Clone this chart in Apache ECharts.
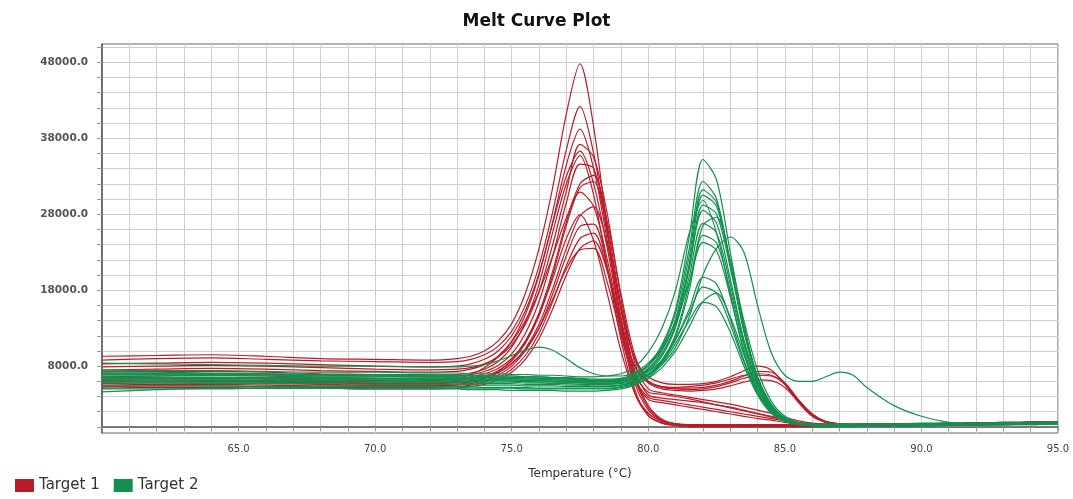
<html>
<head>
<meta charset="utf-8">
<title>Melt Curve Plot</title>
<script src="https://cdn.jsdelivr.net/npm/echarts@6.0.0/dist/echarts.min.js"></script>
<style>
  body { margin: 0; background: #fff; }
  #main { width: 1073px; height: 499px; }
</style>
</head>
<body>
<div id="main"></div>
<script type="text/javascript">
// temperature steps (°C) shared by every curve
var temps = [60,62,64,66,68,70,72,73, 73.5,74,74.5,75,75.5,76,76.5,77, 77.5,78,78.5,79,79.5,80,80.5,81,
             81.5,82,82.5,83,83.5,84,84.5,85, 85.5,86,86.5,87,87.5,88,89,90, 91,92,93,94,95];

// -d(RFU)/dT, in thousands
// Target 1 (red)
var r1  = [9.3,9.4,9.5,9.3,9.0,8.9,8.8,9.0, 9.3,10.0,11.3,13.6,17.6,23.5,31.5,41.2, 47.8,39.5,26.0,13.5,5.0,1.5,0.5,0.2, 0.1,0.1,0.1,0.1,0.1,0.1,0.1,0.1, 0.1,0.1,0.2,0.2,0.2,0.2,0.2,0.3, 0.3,0.4,0.4,0.5,0.6];
var r2  = [8.8,9.0,9.1,8.9,8.7,8.6,8.5,8.6, 8.9,9.5,10.6,12.6,16.0,21.2,28.3,36.5, 42.2,36.0,25.5,15.5,9.0,6.6,5.8,5.6, 5.6,5.7,6.0,6.6,7.4,8.0,7.5,5.6, 3.2,1.4,0.6,0.3,0.2,0.2,0.2,0.3, 0.3,0.4,0.4,0.5,0.6];
var r3  = [8.3,8.4,8.5,8.4,8.2,8.0,7.9,8.0, 8.3,8.9,10.0,12.0,15.3,20.2,27.0,34.5, 39.2,34.0,24.5,14.5,6.5,2.5,0.9,0.4, 0.2,0.2,0.2,0.2,0.2,0.2,0.2,0.2, 0.2,0.2,0.3,0.3,0.3,0.3,0.3,0.4, 0.4,0.5,0.5,0.6,0.6];
var r4  = [7.9,8.0,8.1,8.0,7.8,7.6,7.5,7.6, 7.8,8.3,9.2,10.8,13.5,17.8,24.0,31.0, 37.2,35.5,28.0,17.0,8.5,5.0,4.5,4.2, 3.9,3.6,3.3,3.0,2.6,2.2,1.8,1.3, 0.8,0.5,0.4,0.3,0.3,0.3,0.3,0.4, 0.4,0.5,0.5,0.6,0.6];
var r5  = [7.5,7.6,7.7,7.6,7.4,7.3,7.2,7.3, 7.6,8.2,9.3,11.3,14.8,20.0,26.8,33.0, 36.3,32.0,23.5,14.0,8.0,6.0,5.3,5.1, 5.1,5.2,5.5,6.0,6.7,7.3,7.2,5.8, 3.4,1.5,0.6,0.4,0.3,0.3,0.3,0.4, 0.4,0.5,0.5,0.6,0.7];
var r6  = [7.2,7.3,7.3,7.2,7.0,6.9,6.8,6.9, 7.1,7.6,8.6,10.5,13.8,18.8,25.6,32.0, 35.7,30.5,21.0,11.5,4.5,1.5,0.5,0.2, 0.0,0.0,0.0,0.0,0.0,0.0,0.0,0.0, 0.0,0.0,0.0,0.1,0.1,0.1,0.1,0.2, 0.2,0.3,0.3,0.4,0.5];
var r7  = [6.9,7.0,7.0,6.9,6.8,6.7,6.6,6.7, 6.9,7.3,8.1,9.6,12.3,16.5,22.5,29.5, 34.6,34.0,26.5,16.0,7.5,4.2,3.8,3.6, 3.4,3.2,2.9,2.6,2.2,1.8,1.4,1.0, 0.6,0.4,0.3,0.3,0.3,0.3,0.3,0.4, 0.4,0.5,0.5,0.6,0.6];
var r8  = [6.6,6.7,6.8,6.7,6.5,6.4,6.3,6.4, 6.6,7.0,7.7,9.0,11.3,15.0,20.5,27.0, 32.0,33.1,27.0,17.5,9.5,6.0,5.2,5.0, 4.9,5.0,5.3,5.8,6.4,6.8,6.7,5.6, 3.5,1.7,0.7,0.4,0.3,0.3,0.3,0.4, 0.4,0.5,0.5,0.6,0.6];
var r9  = [6.3,6.4,6.4,6.3,6.2,6.1,6.0,6.1, 6.3,6.7,7.4,8.7,11.0,14.6,20.0,26.5, 31.5,32.3,25.5,15.5,7.0,2.8,1.0,0.4, 0.3,0.3,0.3,0.3,0.3,0.3,0.3,0.3, 0.3,0.3,0.3,0.3,0.3,0.4,0.4,0.4, 0.5,0.5,0.6,0.6,0.7];
var r10 = [6.1,6.2,6.2,6.1,6.0,6.0,6.1,6.4, 6.9,7.8,9.2,11.2,14.0,17.8,22.5,27.5, 30.9,29.0,22.0,13.5,7.0,4.6,4.3,4.0, 3.7,3.3,2.9,2.5,2.1,1.7,1.3,0.9, 0.5,0.3,0.3,0.3,0.3,0.3,0.3,0.4, 0.4,0.5,0.5,0.6,0.6];
var r11 = [5.9,6.0,6.0,5.9,5.8,5.7,5.7,5.8, 6.0,6.4,7.1,8.3,10.3,13.5,18.2,23.5, 27.8,29.0,24.0,16.0,9.0,5.8,5.0,4.8, 4.7,4.8,5.0,5.4,5.9,6.2,6.1,5.2, 3.3,1.6,0.7,0.4,0.3,0.3,0.3,0.4, 0.4,0.5,0.5,0.6,0.6];
var r12 = [5.7,5.8,5.8,5.7,5.6,5.5,5.5,5.6, 5.9,6.4,7.3,8.8,11.2,14.8,19.5,24.8, 27.9,24.5,17.5,10.0,4.5,1.8,0.7,0.2, 0.1,0.1,0.1,0.1,0.1,0.1,0.1,0.1, 0.1,0.1,0.1,0.2,0.2,0.2,0.2,0.3, 0.3,0.3,0.4,0.4,0.5];
var r13 = [5.5,5.6,5.6,5.5,5.4,5.4,5.4,5.5, 5.7,6.1,6.8,8.0,10.0,13.0,17.5,22.5, 26.4,26.7,21.0,13.0,6.5,3.9,3.5,3.2, 2.9,2.6,2.3,2.0,1.7,1.4,1.1,0.8, 0.5,0.3,0.3,0.3,0.3,0.3,0.3,0.4, 0.4,0.5,0.5,0.6,0.6];
var r14 = [5.3,5.4,5.4,5.3,5.2,5.2,5.2,5.3, 5.5,5.9,6.5,7.6,9.4,12.3,16.5,21.2, 24.8,25.5,20.5,12.5,5.8,2.2,0.8,0.4, 0.3,0.3,0.3,0.3,0.3,0.3,0.3,0.3, 0.3,0.3,0.3,0.3,0.4,0.4,0.4,0.4, 0.5,0.5,0.6,0.6,0.7];
var r15 = [5.1,5.2,5.2,5.1,5.1,5.0,5.0,5.1, 5.3,5.6,6.2,7.2,8.9,11.6,15.5,20.0, 23.5,24.5,20.5,13.5,8.0,5.8,5.3,5.2, 5.3,5.5,5.8,6.3,6.8,7.0,6.8,5.8, 3.6,1.7,0.7,0.4,0.3,0.3,0.3,0.4, 0.4,0.5,0.5,0.6,0.6];
var r16 = [6.0,6.0,6.1,6.0,5.9,5.8,5.8,5.9, 6.1,6.5,7.2,8.4,10.2,13.0,16.8,20.8, 23.3,23.5,19.0,12.0,6.2,3.6,3.2,2.9, 2.6,2.3,2.0,1.7,1.4,1.1,0.9,0.6, 0.4,0.3,0.3,0.3,0.3,0.3,0.3,0.4, 0.4,0.5,0.5,0.6,0.6];

// Target 2 (green)
var g1  = [7.3,7.2,7.1,7.0,6.9,6.9,6.8,6.8, 6.8,6.7,6.7,6.7,6.6,6.6,6.5,6.4, 6.3,6.2,6.2,6.3,6.9,8.2,10.8,15.5, 25.0,35.2,32.5,23.0,13.5,6.5,2.8,1.1, 0.5,0.3,0.2,0.2,0.2,0.2,0.2,0.3, 0.3,0.4,0.4,0.5,0.6];
var g2  = [7.0,7.0,6.9,6.9,6.8,6.8,6.7,6.7, 6.7,6.6,6.6,6.5,6.5,6.4,6.4,6.3, 6.2,6.1,6.1,6.2,6.8,8.0,10.5,15.0, 23.5,32.3,30.0,21.5,12.5,6.0,2.6,1.0, 0.4,0.2,0.1,0.1,0.1,0.1,0.2,0.2, 0.2,0.3,0.3,0.4,0.5];
var g3  = [6.9,6.9,6.8,6.8,6.7,6.7,6.6,6.6, 6.5,6.5,6.4,6.4,6.3,6.3,6.2,6.1, 6.0,6.0,6.0,6.1,6.6,7.7,10.0,14.2, 22.5,31.2,29.5,21.5,12.8,6.3,2.7,1.0, 0.4,0.3,0.3,0.3,0.3,0.3,0.3,0.4, 0.4,0.4,0.5,0.5,0.6];
var g4  = [6.6,6.6,6.5,6.5,6.5,6.4,6.4,6.4, 6.3,6.3,6.2,6.2,6.1,6.1,6.0,5.9, 5.8,5.8,5.8,5.9,6.4,7.5,9.6,13.6, 21.5,30.5,29.0,21.5,13.0,6.6,2.9,1.1, 0.5,0.4,0.4,0.4,0.4,0.4,0.4,0.5, 0.5,0.5,0.6,0.6,0.7];
var g5  = [7.5,7.4,7.4,7.3,7.2,7.2,7.1,7.1, 7.0,7.0,7.0,6.9,6.9,6.8,6.8,6.7, 6.6,6.6,6.7,7.0,7.9,9.8,13.0,18.0, 25.5,29.8,25.5,17.5,9.8,4.6,1.9,0.8, 0.4,0.2,0.2,0.2,0.2,0.2,0.2,0.3, 0.3,0.3,0.4,0.4,0.5];
var g6  = [6.4,6.4,6.3,6.3,6.3,6.2,6.2,6.2, 6.2,6.1,6.1,6.0,6.0,5.9,5.9,5.8, 5.8,5.7,5.7,5.8,6.3,7.3,9.3,13.2, 20.8,29.2,28.0,21.0,12.8,6.6,3.0,1.2, 0.5,0.3,0.2,0.2,0.2,0.2,0.3,0.3, 0.3,0.4,0.4,0.5,0.5];
var g7  = [7.1,7.1,7.0,7.0,6.9,6.9,6.9,6.8, 6.8,6.8,6.7,6.7,6.6,6.6,6.5,6.5, 6.4,6.3,6.3,6.4,7.0,8.1,10.2,14.0, 21.0,28.5,26.8,19.5,11.5,5.8,2.5,1.0, 0.4,0.1,0.0,0.0,0.0,0.1,0.1,0.1, 0.2,0.2,0.3,0.3,0.4];
var g8  = [6.2,6.2,6.1,6.1,6.1,6.0,6.0,6.0, 6.0,5.9,5.9,5.9,5.8,5.8,5.7,5.7, 5.6,5.6,5.6,5.7,6.1,7.0,8.8,12.2, 18.8,26.5,27.6,22.0,14.0,7.5,3.4,1.4, 0.6,0.3,0.2,0.2,0.2,0.2,0.2,0.3, 0.3,0.4,0.4,0.5,0.6];
var g9  = [6.8,6.8,6.7,6.7,6.6,6.6,6.6,6.5, 6.5,6.5,6.4,6.4,6.3,6.3,6.2,6.2, 6.1,6.0,6.0,6.1,6.6,7.6,9.6,13.2, 19.8,26.8,25.5,18.8,11.2,5.6,2.4,0.9, 0.4,0.3,0.3,0.3,0.3,0.3,0.3,0.3, 0.4,0.4,0.5,0.5,0.6];
var g10 = [6.0,6.0,5.9,5.9,5.9,5.8,5.8,5.8, 5.8,5.7,5.7,5.7,5.6,5.6,5.6,5.5, 5.5,5.4,5.4,5.5,5.9,6.8,8.5,11.8, 18.0,25.2,24.2,18.0,10.8,5.4,2.3,0.9, 0.4,0.2,0.1,0.1,0.1,0.1,0.1,0.2, 0.2,0.3,0.3,0.4,0.4];
var g11 = [8.4,8.3,8.2,8.1,8.0,8.0,7.9,7.9, 8.0,8.2,8.7,9.4,10.1,10.5,10.1,9.0, 7.8,7.0,6.7,6.7,7.2,8.4,10.5,13.8, 19.0,24.3,23.2,17.2,10.2,5.0,2.1,0.8, 0.4,0.3,0.3,0.3,0.3,0.3,0.3,0.4, 0.4,0.4,0.5,0.5,0.6];
var g12 = [5.8,5.8,5.7,5.7,5.7,5.6,5.6,5.6, 5.6,5.5,5.5,5.5,5.4,5.4,5.4,5.3, 5.3,5.3,5.3,5.5,6.0,6.8,8.2,10.5, 14.5,20.0,23.5,25.0,23.0,16.0,9.8,6.8, 6.0,6.0,6.6,7.2,6.8,5.2,2.8,1.4, 0.6,0.4,0.4,0.5,0.6];
var g13 = [5.4,5.4,5.4,5.3,5.3,5.3,5.3,5.3, 5.3,5.2,5.2,5.2,5.2,5.1,5.1,5.1, 5.1,5.1,5.1,5.3,5.8,6.8,8.6,11.5, 15.5,19.7,18.8,14.2,8.8,4.5,2.0,0.8, 0.4,0.2,0.2,0.2,0.2,0.2,0.2,0.3, 0.3,0.3,0.4,0.4,0.5];
var g14 = [6.5,6.5,6.4,6.4,6.4,6.3,6.3,6.3, 6.3,6.2,6.2,6.2,6.1,6.1,6.0,6.0, 5.9,5.9,5.9,6.0,6.4,7.3,8.8,11.5, 15.0,18.4,17.6,13.5,8.5,4.4,1.9,0.8, 0.4,0.3,0.3,0.3,0.3,0.3,0.3,0.4, 0.4,0.5,0.5,0.6,0.6];
var g15 = [5.0,5.0,5.0,5.1,5.1,5.1,5.1,5.1, 5.1,5.1,5.1,5.1,5.0,5.0,5.0,5.0, 5.0,5.0,5.0,5.2,5.6,6.4,7.8,10.0, 13.2,16.5,17.6,14.5,9.5,5.0,2.2,0.9, 0.4,0.2,0.1,0.1,0.1,0.1,0.1,0.2, 0.2,0.2,0.3,0.3,0.4];
var g16 = [4.6,4.9,5.1,5.1,5.1,5.0,5.0,5.0, 4.9,4.9,4.9,4.8,4.8,4.8,4.8,4.7, 4.7,4.7,4.8,5.0,5.5,6.5,8.3,11.0, 14.0,16.4,15.8,12.5,8.0,4.2,1.8,0.7, 0.3,0.2,0.2,0.2,0.2,0.2,0.2,0.3, 0.3,0.3,0.4,0.4,0.5];

var target1 = [r1, r2, r3, r4, r5, r6, r7, r8, r9, r10, r11, r12, r13, r14, r15, r16];
var target2 = [g1, g2, g3, g4, g5, g6, g7, g8, g9, g10, g11, g12, g13, g14, g15, g16];

// axis ticks
var yTickValues = [0,2000,4000,6000,8000,10000,12000,14000,16000,18000,20000,22000,24000,26000,
                   28000,30000,32000,34000,36000,38000,40000,42000,44000,46000,48000,50000];
var yLabelValues = [8000, 18000, 28000, 38000, 48000];
var xLabelValues = [65, 70, 75, 80, 85, 90, 95];

var RED = '#b91d2a';
var GREEN = '#13904f';

function curveSeries(name, color, vals) {
    return {
        name: name,
        type: 'line',
        data: temps.map(function (t, i) { return [t, vals[i] * 1000]; }),
        symbol: 'none',
        smooth: 0.3,
        silent: true,
        lineStyle: { color: color, width: 1.2 },
        itemStyle: { color: color },
        emphasis: { disabled: true }
    };
}

var series = [];
target1.forEach(function (c) { series.push(curveSeries('Target 1', RED, c)); });
target2.forEach(function (c) { series.push(curveSeries('Target 2', GREEN, c)); });

var myChart = echarts.init(document.getElementById('main'));
myChart.setOption({
    animation: false,
    title: {
        text: 'Melt Curve Plot',
        left: 'center',
        top: 8,
        textStyle: { fontFamily: 'DejaVu Sans', fontWeight: 'bold', fontSize: 17, color: '#111' }
    },
    legend: {
        data: ['Target 1', 'Target 2'],
        left: 10,
        bottom: 1,
        icon: 'rect',
        itemWidth: 19,
        itemHeight: 13,
        itemGap: 14,
        textStyle: { fontFamily: 'DejaVu Sans', fontSize: 15, color: '#333' }
    },
    grid: {
        left: 102, right: 15, top: 44, bottom: 66,
        show: true, borderColor: '#666', borderWidth: 1
    },
    xAxis: {
        type: 'value',
        min: 60, max: 95, interval: 1,
        name: 'Temperature (°C)',
        nameLocation: 'middle',
        nameGap: 35,
        nameTextStyle: { fontFamily: 'DejaVu Sans', fontSize: 12, color: '#333' },
        axisLine: { lineStyle: { color: '#555', width: 1.5 } },
        axisTick: { length: 4, lineStyle: { color: '#999' } },
        axisLabel: {
            customValues: xLabelValues,
            margin: 11,
            fontFamily: 'DejaVu Sans', fontSize: 10, color: '#444',
            formatter: function (v) { return v.toFixed(1); }
        },
        splitLine: { lineStyle: { color: '#cfcfcf', width: 1 } }
    },
    yAxis: {
        type: 'value',
        min: -800, max: 50400,
        axisLine: { show: true, lineStyle: { color: '#555', width: 1.5 } },
        axisTick: { show: true, length: 5, customValues: yTickValues, lineStyle: { color: '#999' } },
        axisLabel: {
            customValues: yLabelValues,
            margin: 14,
            fontFamily: 'DejaVu Sans', fontSize: 10.5, fontWeight: 'bold', color: '#555',
            formatter: function (v) { return v.toFixed(1); }
        },
        splitLine: { lineStyle: { color: '#cfcfcf', width: 1 } }
    },
    series: series
});
</script>
</body>
</html>
